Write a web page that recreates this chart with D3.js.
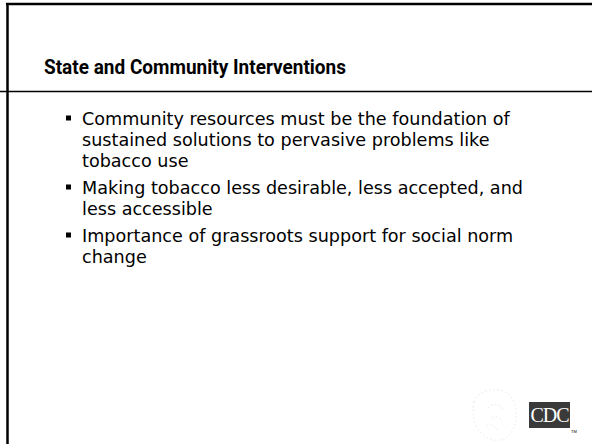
<!DOCTYPE html>
<html>
<head>
<meta charset="utf-8">
<script src="https://cdn.jsdelivr.net/npm/d3@7"></script>
<style>
  html, body { margin: 0; padding: 0; background: #fff; }
  svg { display: block; }
</style>
</head>
<body>
<script>
// slide content
const title = 'State and Community Interventions';
const bullets = [
  ['Community resources must be the foundation of', 'sustained solutions to pervasive problems like', 'tobacco use'],
  ['Making tobacco less desirable, less accepted, and', 'less accessible'],
  ['Importance of grassroots support for social norm', 'change']
];
const logoText = 'CDC';

const W = 592, H = 444;
const svg = d3.select('body').append('svg').attr('width', W).attr('height', H);

// frame: top and left rules, title divider
svg.append('line').attr('x1', 6).attr('x2', W).attr('y1', 4).attr('y2', 4)
  .attr('stroke', '#000').attr('stroke-width', 2.5);
svg.append('line').attr('x1', 7.5).attr('x2', 7.5).attr('y1', 3).attr('y2', H)
  .attr('stroke', '#000').attr('stroke-width', 2.5);
svg.append('line').attr('x1', 0).attr('x2', W).attr('y1', 91.5).attr('y2', 91.5)
  .attr('stroke', '#000').attr('stroke-width', 1.5);

const font = 'Tahoma, "DejaVu Sans", Verdana, sans-serif';

// pick a font size so a text spans the width it has on the slide
function fitSize(node, size, target) {
  const w = node.getComputedTextLength();
  return w > 0 ? size * target / w : size;
}

// title: keep the tall Tahoma-ish look, squeeze to slide width
svg.append('text')
  .attr('x', 44).attr('y', 74)
  .attr('font-family', 'Tahoma, Roboto, sans-serif').attr('font-weight', 'bold').attr('font-size', 19.5)
  .attr('textLength', 302).attr('lengthAdjust', 'spacingAndGlyphs')
  .attr('fill', '#000')
  .text(title);

// bullets
const lineH = 21, gap = 6;
let y = 125;
const body = svg.append('g').attr('font-family', font).attr('font-size', 16).attr('fill', '#000');
const texts = [];
bullets.forEach(lines => {
  body.append('rect').attr('x', 66).attr('y', y - 9.5).attr('width', 5).attr('height', 5).attr('fill', '#000');
  lines.forEach(ln => {
    texts.push(body.append('text').attr('x', 82).attr('y', y).text(ln));
    y += lineH;
  });
  y += gap;
});
body.attr('font-size', Math.min(fitSize(texts[0].node(), 16, 428), 18));

// faint eagle watermark
const wm = svg.append('g').attr('fill', 'none').attr('stroke', '#e8e8e8').attr('stroke-width', 1)
  .attr('stroke-dasharray', '1.5 2.5');
wm.append('path').attr('d', 'M474 402 Q480 388 500 390 Q514 394 516 410 Q518 428 506 438 Q494 444 482 434 Q470 422 474 402');
wm.append('path').attr('d', 'M488 408 Q496 400 504 410 M492 418 Q498 414 502 422 M486 426 Q494 422 498 432');

// CDC logo
const logo = svg.append('g');
logo.append('rect').attr('x', 529).attr('y', 402).attr('width', 41).attr('height', 26).attr('fill', '#3a3a3a');
logo.append('text').attr('x', 549.5).attr('y', 422)
  .attr('text-anchor', 'middle').attr('font-family', '"Liberation Serif", "DejaVu Serif", serif')
  .attr('font-size', 20).attr('fill', '#fff').attr('letter-spacing', -1).text(logoText);
logo.append('text').attr('x', 571).attr('y', 433).attr('font-family', 'sans-serif')
  .attr('font-size', 4).attr('fill', '#000').text('TM');
</script>
</body>
</html>
